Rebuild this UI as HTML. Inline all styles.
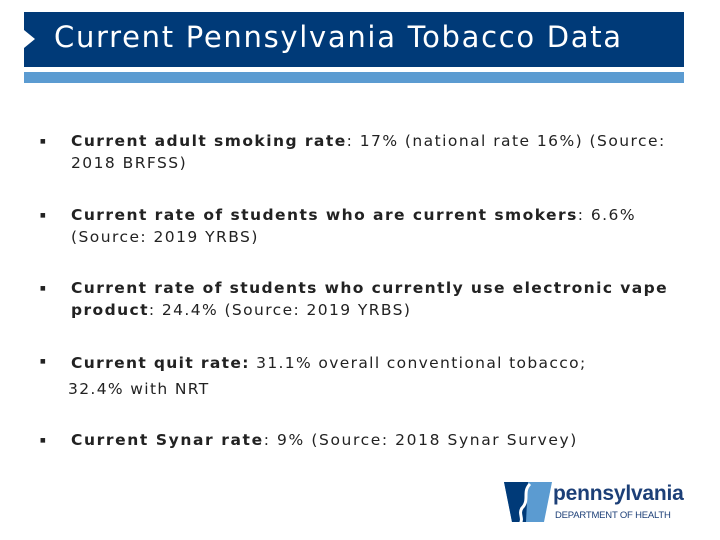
<!DOCTYPE html>
<html><head><meta charset="utf-8"><style>
body{margin:0;width:720px;height:540px;background:#fff;position:relative;overflow:hidden;font-family:"DejaVu Sans","Liberation Sans",sans-serif;}
.hdr{position:absolute;left:24px;top:12px;width:660px;height:55px;background:#003a78;}
.tri{position:absolute;left:24px;top:30px;width:0;height:0;border-top:9px solid transparent;border-bottom:9px solid transparent;border-left:11px solid #fff;}
.title{position:absolute;left:54px;top:20px;color:#fff;font-size:29px;font-family:"DejaVu Sans",sans-serif;letter-spacing:1.7px;white-space:nowrap;}
.bar{position:absolute;left:24px;top:72px;width:660px;height:11px;background:#5b9bd1;}
.b{position:absolute;left:40px;font-size:6px;color:#222;}
.t{position:absolute;left:71px;font-size:15.5px;color:#222;line-height:22px;white-space:nowrap;letter-spacing:1.45px;}
.t b{font-weight:bold;}
</style></head><body>
<div class="hdr"></div>
<div class="tri"></div>
<div class="title">Current Pennsylvania Tobacco Data</div>
<div class="bar"></div>

<div class="b" style="top:138px">■</div>
<div class="t" style="top:130px"><b>Current adult smoking rate</b>: 17% (national rate 16%) (Source:<br>2018 BRFSS)</div>
<div class="b" style="top:212px">■</div>
<div class="t" style="top:204px"><b>Current rate of students who are current smokers</b>: 6.6%<br>(Source: 2019 YRBS)</div>
<div class="b" style="top:285px">■</div>
<div class="t" style="top:277px;letter-spacing:1.4px"><b>Current rate of students who currently use electronic vape<br>product</b>: 24.4% (Source: 2019 YRBS)</div>
<div class="b" style="top:358px">■</div>
<div class="t" style="top:350px;line-height:26px;letter-spacing:1.35px"><b>Current quit rate:</b> 31.1% overall conventional tobacco;<br><span style="margin-left:-3px">32.4% with NRT</span></div>
<div class="b" style="top:437px">■</div>
<div class="t" style="top:429px;letter-spacing:1.6px"><b>Current Synar rate</b>: 9% (Source: 2018 Synar Survey)</div>

<svg style="position:absolute;left:500px;top:478px" width="56" height="48">
<polygon points="4,4 52,4 44,44 12,44" fill="#5b9bd1"/>
<polygon points="4,4 28,4 26,44 12,44" fill="#003a78"/>
<path d="M30,6 C22,14 30,22 22,30 C18,36 24,40 20,46" stroke="#fff" stroke-width="3" fill="none"/>
</svg>
<div style="position:absolute;left:553px;top:482px;font-size:21px;font-weight:bold;color:#1c3f77;font-family:'Liberation Sans',sans-serif;letter-spacing:-0.2px">pennsylvania</div>
<div style="position:absolute;left:555px;top:510px;font-size:9.5px;color:#1c3f77;font-family:'Liberation Sans',sans-serif;letter-spacing:-0.2px">DEPARTMENT OF HEALTH</div>
</body></html>
